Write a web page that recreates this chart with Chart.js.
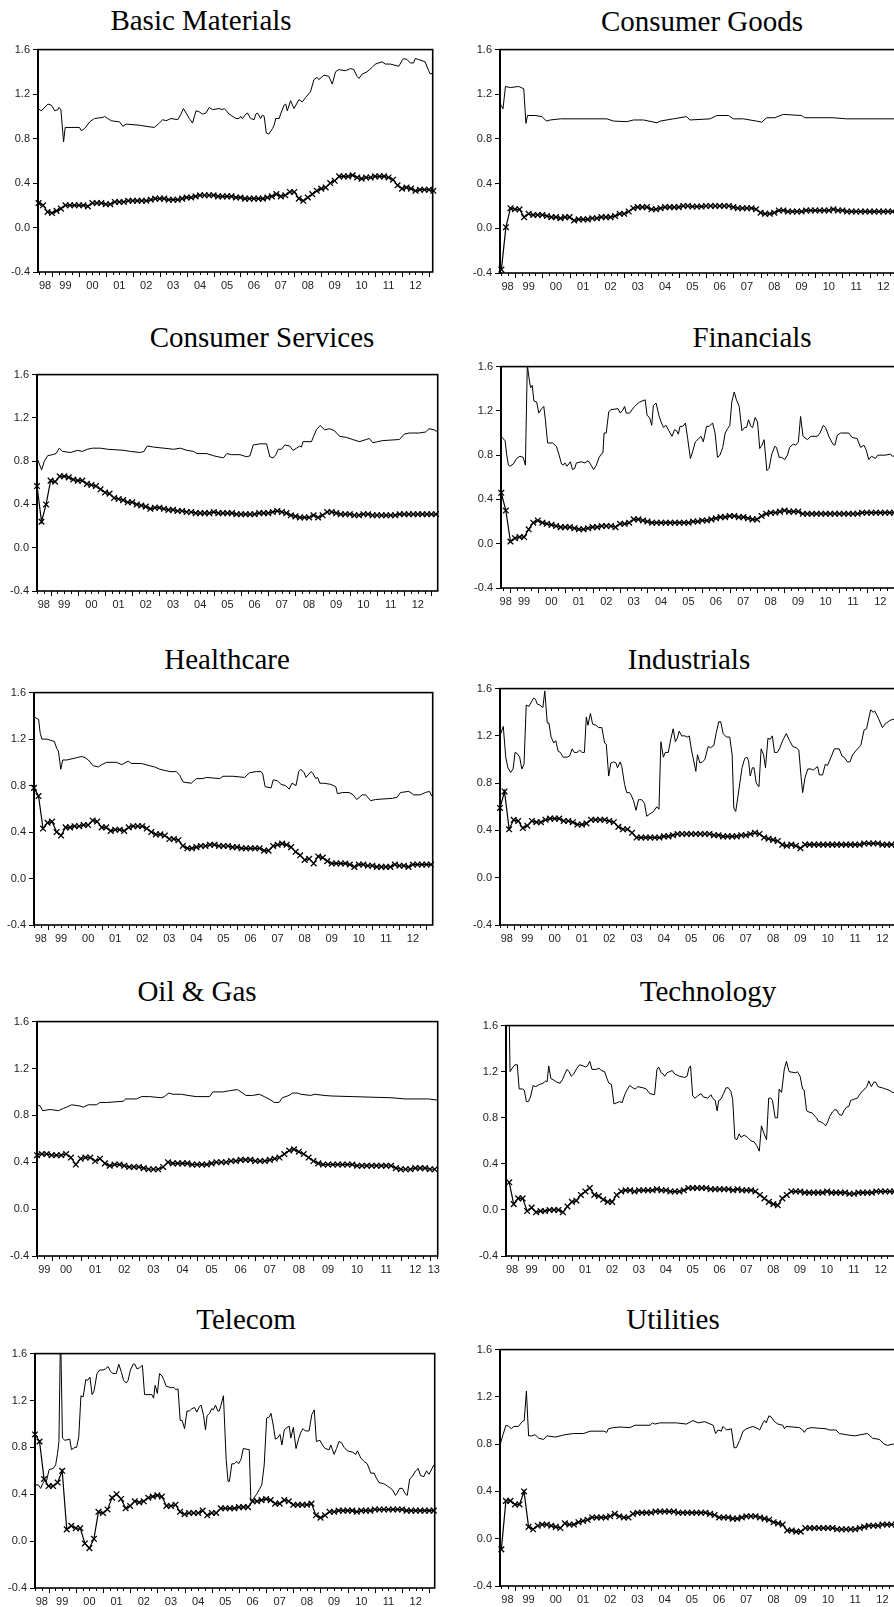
<!DOCTYPE html>
<html lang="en">
<head>
<meta charset="UTF-8">
<title>Sector panels</title>
<script src="https://cdn.jsdelivr.net/npm/chart.js"></script>
<style>
  html, body { margin: 0; padding: 0; background: #fff; overflow: hidden; }
  #page { position: relative; width: 894px; height: 1607px; overflow: hidden; }
  .title {
    position: absolute;
    font-family: 'Times New Roman', 'Liberation Serif', serif;
    font-size: 29px;
    line-height: 29px;
    white-space: nowrap;
    transform: translateX(-50%);
    color: #000;
  }
  canvas { position: absolute; }
</style>
</head>
<body>
<div id="page"></div>
<script>
// line series: [year, value]
const basicLine = [[1998.48,1.07],[1998.60,1.05],[1998.85,1.11],[1998.98,1.10],[1999.10,1.05],[1999.22,1.06],[1999.26,1.08],[1999.33,1.06],[1999.43,0.77],[1999.49,0.90],[2000.02,0.90],[2000.09,0.87],[2000.21,0.89],[2000.40,0.95],[2000.58,0.98],[2000.89,0.99],[2000.95,1.00],[2001.07,0.98],[2001.20,0.96],[2001.51,0.95],[2001.63,0.91],[2001.75,0.93],[2002.25,0.92],[2002.49,0.91],[2002.80,0.90],[2002.99,0.94],[2003.11,0.97],[2003.23,0.96],[2003.42,0.98],[2003.67,0.97],[2003.79,1.02],[2003.88,1.07],[2003.98,1.03],[2004.10,0.98],[2004.22,0.94],[2004.35,1.05],[2004.47,1.04],[2004.59,1.02],[2004.72,1.03],[2004.84,1.08],[2004.96,1.06],[2005.21,1.07],[2005.33,1.06],[2005.40,1.07],[2005.58,1.02],[2005.83,0.98],[2005.95,0.98],[2006.01,1.00],[2006.07,0.98],[2006.20,1.02],[2006.26,1.03],[2006.38,0.98],[2006.51,0.97],[2006.57,1.02],[2006.63,1.03],[2006.75,0.98],[2006.81,1.01],[2006.88,1.00],[2006.96,0.85],[2007.05,0.84],[2007.19,0.89],[2007.25,0.92],[2007.31,0.98],[2007.44,0.98],[2007.49,1.02],[2007.62,1.10],[2007.68,1.11],[2007.74,1.05],[2007.86,1.14],[2007.99,1.07],[2008.17,1.15],[2008.30,1.13],[2008.42,1.17],[2008.60,1.22],[2008.73,1.33],[2008.85,1.35],[2008.91,1.33],[2009.10,1.37],[2009.28,1.36],[2009.41,1.29],[2009.53,1.40],[2009.65,1.42],[2009.90,1.41],[2010.09,1.43],[2010.21,1.42],[2010.33,1.36],[2010.40,1.34],[2010.52,1.38],[2010.70,1.40],[2010.89,1.44],[2011.01,1.47],[2011.26,1.49],[2011.38,1.47],[2011.57,1.47],[2011.88,1.45],[2012.00,1.50],[2012.06,1.52],[2012.19,1.51],[2012.31,1.48],[2012.43,1.48],[2012.49,1.52],[2012.62,1.51],[2012.86,1.49],[2012.99,1.41],[2013.05,1.38],[2013.14,1.39]];
const goodsLine = [[1998.45,1.12],[1998.56,1.07],[1998.65,1.27],[1998.83,1.26],[1999.13,1.27],[1999.32,1.25],[1999.40,0.94],[1999.46,1.01],[1999.74,1.01],[1999.99,1.00],[2000.15,0.96],[2000.29,0.97],[2000.66,0.98],[2002.37,0.98],[2002.61,0.96],[2003.10,0.955],[2003.34,0.97],[2003.71,0.97],[2004.20,0.945],[2004.32,0.96],[2004.80,0.98],[2005.29,1.00],[2005.41,0.97],[2006.15,0.98],[2006.39,1.01],[2006.82,1.01],[2007.00,0.98],[2007.37,0.98],[2007.85,0.96],[2008.04,0.95],[2008.22,0.99],[2008.52,0.99],[2008.83,1.02],[2009.50,1.01],[2009.62,0.99],[2010.66,0.99],[2011.15,0.98],[2013.17,0.98]];
const servicesLine = [[1998.50,0.83],[1998.67,0.72],[1998.77,0.80],[1998.89,0.85],[1999.07,0.86],[1999.20,0.87],[1999.32,0.92],[1999.44,0.89],[1999.74,0.88],[1999.99,0.90],[2000.17,0.89],[2000.35,0.91],[2000.54,0.92],[2000.84,0.92],[2001.09,0.91],[2001.70,0.90],[2001.94,0.89],[2002.30,0.88],[2002.43,0.89],[2002.55,0.94],[2002.79,0.93],[2003.16,0.92],[2003.52,0.91],[2003.77,0.92],[2004.01,0.90],[2004.26,0.89],[2004.38,0.87],[2004.74,0.87],[2004.99,0.85],[2005.35,0.83],[2005.48,0.87],[2005.66,0.86],[2005.96,0.86],[2006.21,0.84],[2006.33,0.85],[2006.45,0.95],[2006.70,0.96],[2006.94,0.96],[2007.06,0.84],[2007.18,0.83],[2007.28,0.86],[2007.37,0.91],[2007.49,0.91],[2007.61,0.95],[2007.79,0.94],[2007.91,0.90],[2008.04,0.92],[2008.16,0.94],[2008.22,0.93],[2008.28,0.98],[2008.59,0.98],[2008.67,1.03],[2008.77,1.09],[2008.91,1.13],[2009.07,1.09],[2009.26,1.10],[2009.44,1.08],[2009.62,1.03],[2009.87,1.02],[2010.11,1.00],[2010.35,0.98],[2010.60,1.00],[2010.72,1.01],[2010.84,0.97],[2011.02,0.98],[2011.21,0.99],[2011.82,1.00],[2012.00,1.05],[2012.18,1.06],[2012.55,1.06],[2012.79,1.07],[2012.91,1.10],[2013.10,1.09],[2013.23,1.07]];
const financeLine = [[1998.66,0.97],[1998.81,0.93],[1998.87,0.80],[1998.93,0.71],[1998.99,0.70],[1999.11,0.72],[1999.23,0.77],[1999.35,0.79],[1999.47,0.78],[1999.55,0.71],[1999.62,1.62],[1999.68,1.50],[1999.74,1.41],[1999.80,1.43],[1999.86,1.29],[1999.96,1.28],[2000.04,1.18],[2000.14,1.22],[2000.22,1.24],[2000.28,1.12],[2000.36,0.91],[2000.54,0.91],[2000.68,0.88],[2000.77,0.81],[2000.87,0.72],[2000.93,0.71],[2000.99,0.73],[2001.07,0.70],[2001.19,0.74],[2001.27,0.67],[2001.35,0.68],[2001.41,0.73],[2001.59,0.74],[2001.72,0.73],[2001.84,0.75],[2001.92,0.72],[2002.04,0.67],[2002.14,0.71],[2002.24,0.78],[2002.32,0.81],[2002.38,0.82],[2002.42,1.00],[2002.50,1.00],[2002.59,1.19],[2002.66,1.21],[2002.93,1.22],[2003.01,1.18],[2003.11,1.21],[2003.17,1.24],[2003.23,1.18],[2003.35,1.18],[2003.53,1.24],[2003.62,1.26],[2003.72,1.28],[2003.92,1.30],[2003.99,1.16],[2004.08,1.14],[2004.16,1.07],[2004.22,1.25],[2004.32,1.27],[2004.42,1.16],[2004.50,1.10],[2004.59,1.05],[2004.68,1.07],[2004.83,1.00],[2004.90,0.97],[2004.99,1.03],[2005.07,1.02],[2005.13,0.99],[2005.19,1.06],[2005.29,1.06],[2005.39,1.09],[2005.47,0.95],[2005.57,0.77],[2005.65,0.83],[2005.75,0.92],[2005.96,0.97],[2006.04,0.92],[2006.16,1.06],[2006.25,1.06],[2006.38,1.09],[2006.47,1.00],[2006.56,0.78],[2006.65,0.80],[2006.75,0.87],[2006.84,1.00],[2006.93,1.04],[2007.01,1.07],[2007.08,1.28],[2007.17,1.37],[2007.25,1.30],[2007.35,1.24],[2007.45,1.02],[2007.55,1.05],[2007.62,1.05],[2007.69,1.12],[2007.78,1.06],[2007.84,1.05],[2007.93,1.14],[2008.02,1.10],[2008.10,0.86],[2008.18,0.89],[2008.26,0.94],[2008.36,0.66],[2008.44,0.68],[2008.54,0.81],[2008.65,0.88],[2008.71,0.87],[2008.81,0.78],[2008.90,0.78],[2009.01,0.76],[2009.11,0.80],[2009.19,0.87],[2009.32,0.90],[2009.41,0.89],[2009.51,0.92],[2009.59,1.15],[2009.68,0.97],[2009.84,0.94],[2009.96,0.97],[2010.20,0.97],[2010.30,1.00],[2010.42,1.07],[2010.50,1.05],[2010.62,0.97],[2010.77,0.90],[2010.84,0.89],[2010.93,0.98],[2011.05,1.00],[2011.35,1.00],[2011.47,0.96],[2011.65,0.95],[2011.78,0.87],[2011.90,0.89],[2011.98,0.85],[2012.08,0.76],[2012.18,0.79],[2012.32,0.77],[2012.41,0.80],[2012.68,0.80],[2012.87,0.81],[2012.94,0.79],[2013.17,0.80]];
const healthLine = [[1998.50,1.39],[1998.67,1.37],[1998.73,1.25],[1998.79,1.20],[1998.98,1.20],[1999.10,1.19],[1999.25,1.18],[1999.34,1.12],[1999.40,1.10],[1999.49,0.94],[1999.56,1.02],[1999.71,1.02],[2000.08,1.04],[2000.26,1.05],[2000.39,1.04],[2000.51,1.02],[2000.69,0.97],[2000.88,0.96],[2001.00,0.98],[2001.18,1.00],[2001.55,1.00],[2001.74,0.98],[2001.98,1.01],[2002.10,0.99],[2002.47,0.99],[2002.78,0.97],[2002.96,0.96],[2003.15,0.94],[2003.52,0.92],[2003.76,0.92],[2003.88,0.89],[2004.01,0.83],[2004.31,0.82],[2004.50,0.86],[2004.74,0.86],[2004.87,0.87],[2005.36,0.86],[2005.48,0.88],[2005.85,0.88],[2006.28,0.87],[2006.46,0.91],[2006.71,0.92],[2006.89,0.92],[2006.95,0.90],[2007.04,0.79],[2007.26,0.78],[2007.34,0.85],[2007.50,0.84],[2007.63,0.81],[2007.79,0.80],[2007.93,0.77],[2008.03,0.82],[2008.18,0.80],[2008.28,0.92],[2008.36,0.94],[2008.48,0.91],[2008.55,0.87],[2008.73,0.92],[2008.79,0.91],[2008.91,0.86],[2008.98,0.87],[2009.06,0.82],[2009.22,0.82],[2009.47,0.81],[2009.65,0.79],[2009.71,0.73],[2009.90,0.74],[2010.14,0.74],[2010.29,0.72],[2010.42,0.68],[2010.63,0.72],[2010.75,0.72],[2010.94,0.67],[2011.12,0.68],[2011.74,0.69],[2011.92,0.70],[2012.04,0.74],[2012.35,0.75],[2012.53,0.72],[2012.77,0.72],[2012.96,0.74],[2013.11,0.75],[2013.20,0.71]];
const industLine = [[1998.53,1.22],[1998.62,1.28],[1998.71,1.02],[1998.79,0.93],[1998.89,0.89],[1998.98,0.92],[1999.05,1.06],[1999.13,1.05],[1999.22,1.02],[1999.30,0.92],[1999.38,0.96],[1999.46,1.46],[1999.56,1.45],[1999.73,1.52],[1999.80,1.51],[1999.86,1.47],[1999.96,1.46],[2000.07,1.44],[2000.14,1.58],[2000.23,1.31],[2000.29,1.31],[2000.37,1.19],[2000.47,1.14],[2000.54,1.16],[2000.63,1.07],[2000.71,1.06],[2000.81,1.02],[2000.96,1.02],[2001.05,1.03],[2001.14,1.09],[2001.22,1.06],[2001.32,1.06],[2001.42,1.08],[2001.50,1.06],[2001.59,1.06],[2001.66,1.36],[2001.72,1.29],[2001.81,1.39],[2001.89,1.30],[2002.01,1.29],[2002.11,1.27],[2002.23,1.27],[2002.33,1.14],[2002.39,1.13],[2002.48,0.86],[2002.56,0.97],[2002.66,0.98],[2002.75,0.97],[2002.80,0.93],[2002.90,0.98],[2002.96,0.94],[2003.06,0.79],[2003.14,0.72],[2003.24,0.72],[2003.30,0.70],[2003.39,0.65],[2003.48,0.57],[2003.57,0.66],[2003.69,0.66],[2003.79,0.63],[2003.87,0.52],[2003.99,0.54],[2004.12,0.56],[2004.24,0.60],[2004.32,0.58],[2004.39,1.15],[2004.48,1.02],[2004.55,1.06],[2004.66,1.06],[2004.76,1.18],[2004.84,1.26],[2004.92,1.15],[2004.99,1.18],[2005.06,1.24],[2005.15,1.20],[2005.27,1.20],[2005.36,1.19],[2005.43,1.20],[2005.51,1.08],[2005.60,0.98],[2005.67,0.90],[2005.73,1.04],[2005.82,0.97],[2005.91,0.98],[2006.00,1.00],[2006.12,1.11],[2006.21,1.10],[2006.33,1.12],[2006.42,1.23],[2006.51,1.32],[2006.58,1.32],[2006.67,1.22],[2006.79,1.19],[2006.91,1.19],[2007.00,1.04],[2007.06,0.59],[2007.13,0.56],[2007.25,0.75],[2007.36,0.93],[2007.46,1.01],[2007.54,1.02],[2007.60,0.99],[2007.66,0.86],[2007.74,0.93],[2007.80,0.93],[2007.88,0.80],[2007.98,0.77],[2008.06,1.09],[2008.15,1.04],[2008.22,0.93],[2008.31,1.18],[2008.39,1.17],[2008.47,1.20],[2008.55,1.06],[2008.65,1.06],[2008.73,1.09],[2008.85,1.16],[2008.98,1.22],[2009.10,1.16],[2009.22,1.11],[2009.34,1.10],[2009.44,1.08],[2009.52,0.86],[2009.58,0.72],[2009.67,0.85],[2009.77,0.92],[2009.89,0.92],[2009.97,0.91],[2010.07,0.93],[2010.13,0.94],[2010.19,0.87],[2010.31,0.87],[2010.41,0.96],[2010.49,0.95],[2010.62,1.02],[2010.74,1.09],[2010.92,1.09],[2011.02,1.03],[2011.10,1.02],[2011.22,0.98],[2011.31,0.98],[2011.41,1.04],[2011.55,1.08],[2011.71,1.12],[2011.83,1.25],[2011.92,1.26],[2012.07,1.42],[2012.16,1.40],[2012.22,1.41],[2012.35,1.35],[2012.50,1.27],[2012.60,1.30],[2012.77,1.33],[2012.88,1.34],[2013.17,1.34]];
const oilLine = [[1999.50,0.89],[1999.61,0.88],[1999.69,0.84],[1999.95,0.85],[2000.24,0.84],[2000.41,0.86],[2000.52,0.87],[2000.69,0.89],[2000.98,0.88],[2001.09,0.87],[2001.26,0.89],[2001.55,0.89],[2001.66,0.91],[2001.89,0.91],[2002.46,0.92],[2002.55,0.94],[2002.92,0.94],[2003.09,0.96],[2003.37,0.96],[2003.77,0.95],[2003.88,0.96],[2004.03,0.99],[2004.17,0.98],[2004.46,0.98],[2004.69,0.97],[2004.97,0.96],[2005.43,0.96],[2005.54,1.00],[2005.88,1.00],[2006.11,1.01],[2006.39,1.02],[2006.51,1.00],[2006.68,0.97],[2006.91,0.97],[2007.14,0.98],[2007.31,0.96],[2007.54,0.93],[2007.65,0.91],[2007.82,0.91],[2007.93,0.95],[2008.16,0.97],[2008.28,0.99],[2008.45,0.99],[2008.56,0.98],[2008.90,0.97],[2009.05,0.98],[2009.36,0.97],[2009.64,0.965],[2010.33,0.96],[2011.01,0.955],[2011.70,0.95],[2012.15,0.94],[2012.95,0.94],[2013.27,0.93]];
const techLine = [[1998.55,2.00],[1998.65,2.00],[1998.70,1.20],[1998.78,1.23],[1998.88,1.26],[1998.97,1.26],[1999.04,1.05],[1999.17,1.05],[1999.23,1.04],[1999.31,0.94],[1999.38,0.94],[1999.46,0.98],[1999.56,1.08],[1999.66,1.07],[1999.81,1.09],[1999.93,1.10],[2000.03,1.12],[2000.08,1.11],[2000.14,1.25],[2000.22,1.14],[2000.31,1.13],[2000.43,1.11],[2000.56,1.10],[2000.65,1.13],[2000.74,1.18],[2000.82,1.22],[2000.90,1.20],[2000.98,1.16],[2001.07,1.18],[2001.19,1.23],[2001.29,1.26],[2001.42,1.25],[2001.52,1.24],[2001.58,1.25],[2001.67,1.29],[2001.75,1.22],[2001.91,1.22],[2002.01,1.23],[2002.10,1.21],[2002.22,1.20],[2002.31,1.14],[2002.38,1.10],[2002.47,1.09],[2002.50,1.05],[2002.57,0.92],[2002.68,0.93],[2002.78,0.94],[2002.87,0.93],[2002.97,1.00],[2003.03,1.03],[2003.15,1.08],[2003.27,1.06],[2003.37,1.05],[2003.46,1.07],[2003.65,1.06],[2003.77,1.05],[2003.90,1.01],[2004.08,1.00],[2004.17,1.22],[2004.23,1.24],[2004.33,1.19],[2004.40,1.18],[2004.46,1.16],[2004.54,1.19],[2004.64,1.20],[2004.74,1.21],[2004.83,1.18],[2005.02,1.16],[2005.20,1.15],[2005.29,1.16],[2005.36,1.23],[2005.42,1.25],[2005.50,0.99],[2005.59,0.97],[2005.69,0.99],[2005.81,1.01],[2005.90,0.98],[2006.06,0.97],[2006.18,1.00],[2006.24,0.97],[2006.34,0.95],[2006.41,0.86],[2006.47,0.95],[2006.55,0.96],[2006.65,1.01],[2006.74,1.06],[2006.83,1.06],[2006.92,1.03],[2006.99,0.96],[2007.07,0.62],[2007.15,0.61],[2007.23,0.66],[2007.30,0.63],[2007.42,0.65],[2007.54,0.63],[2007.67,0.60],[2007.79,0.59],[2007.88,0.56],[2007.98,0.51],[2008.06,0.73],[2008.16,0.66],[2008.25,0.61],[2008.33,0.97],[2008.41,0.97],[2008.47,0.95],[2008.57,0.80],[2008.66,0.80],[2008.72,1.05],[2008.81,1.02],[2008.91,1.22],[2008.99,1.29],[2009.09,1.20],[2009.34,1.19],[2009.40,1.20],[2009.50,1.16],[2009.59,1.05],[2009.65,1.04],[2009.74,0.86],[2009.83,0.85],[2009.96,0.84],[2010.02,0.82],[2010.11,0.80],[2010.18,0.77],[2010.30,0.76],[2010.37,0.75],[2010.45,0.73],[2010.54,0.77],[2010.60,0.81],[2010.70,0.85],[2010.79,0.87],[2010.85,0.87],[2010.95,0.83],[2011.05,0.82],[2011.13,0.86],[2011.22,0.89],[2011.32,0.90],[2011.38,0.95],[2011.50,0.96],[2011.63,0.97],[2011.71,1.00],[2011.81,1.03],[2011.91,1.05],[2011.98,1.07],[2012.06,1.12],[2012.15,1.07],[2012.25,1.11],[2012.31,1.11],[2012.40,1.07],[2012.56,1.06],[2012.68,1.05],[2012.81,1.04],[2012.94,1.02],[2013.17,1.02]];
const telecomLine = [[1998.50,0.48],[1998.62,0.48],[1998.71,0.45],[1998.78,0.49],[1998.87,0.52],[1998.93,0.52],[1999.02,0.61],[1999.17,0.62],[1999.26,0.65],[1999.33,0.75],[1999.38,0.85],[1999.44,1.80],[1999.51,0.88],[1999.60,0.86],[1999.78,0.87],[1999.84,0.78],[1999.97,0.80],[2000.03,0.80],[2000.11,0.89],[2000.19,1.24],[2000.27,1.23],[2000.37,1.38],[2000.43,1.37],[2000.52,1.40],[2000.60,1.25],[2000.67,1.28],[2000.78,1.43],[2000.88,1.46],[2001.00,1.46],[2001.10,1.47],[2001.19,1.49],[2001.27,1.45],[2001.37,1.43],[2001.49,1.43],[2001.58,1.51],[2001.68,1.44],[2001.76,1.37],[2001.86,1.35],[2001.92,1.37],[2002.01,1.46],[2002.11,1.51],[2002.17,1.51],[2002.25,1.47],[2002.35,1.48],[2002.45,1.50],[2002.53,1.25],[2002.80,1.25],[2002.86,1.22],[2002.92,1.33],[2003.00,1.26],[2003.08,1.43],[2003.17,1.41],[2003.23,1.38],[2003.33,1.32],[2003.51,1.31],[2003.61,1.31],[2003.69,1.29],[2003.76,1.30],[2003.84,1.03],[2003.91,1.03],[2004.00,0.96],[2004.09,1.11],[2004.18,1.11],[2004.27,1.13],[2004.37,1.14],[2004.45,1.10],[2004.55,1.15],[2004.61,1.16],[2004.70,1.07],[2004.77,0.95],[2004.83,1.07],[2004.92,1.09],[2005.00,1.13],[2005.06,1.12],[2005.14,1.16],[2005.22,1.11],[2005.28,1.11],[2005.34,1.16],[2005.43,1.24],[2005.53,0.70],[2005.60,0.51],[2005.65,0.51],[2005.74,0.66],[2005.83,0.66],[2005.92,0.68],[2005.99,0.66],[2006.08,0.70],[2006.16,0.79],[2006.38,0.78],[2006.44,0.34],[2006.53,0.36],[2006.65,0.40],[2006.75,0.44],[2006.84,0.48],[2006.93,0.65],[2007.02,1.05],[2007.12,1.06],[2007.18,1.09],[2007.26,0.99],[2007.34,0.87],[2007.42,0.88],[2007.51,0.91],[2007.58,0.82],[2007.67,0.95],[2007.77,0.97],[2007.85,0.98],[2007.91,0.88],[2008.00,0.97],[2008.10,0.79],[2008.19,0.87],[2008.28,0.93],[2008.36,0.96],[2008.44,0.94],[2008.58,0.94],[2008.68,1.08],[2008.77,1.12],[2008.85,0.85],[2008.98,0.86],[2009.07,0.82],[2009.17,0.79],[2009.32,0.78],[2009.38,0.82],[2009.44,0.78],[2009.50,0.74],[2009.59,0.79],[2009.68,0.85],[2009.77,0.84],[2009.87,0.80],[2009.99,0.77],[2010.17,0.76],[2010.30,0.74],[2010.36,0.77],[2010.48,0.71],[2010.60,0.68],[2010.72,0.66],[2010.85,0.58],[2010.97,0.58],[2011.05,0.54],[2011.15,0.50],[2011.33,0.49],[2011.46,0.47],[2011.58,0.45],[2011.64,0.44],[2011.76,0.39],[2011.82,0.41],[2011.91,0.45],[2012.01,0.45],[2012.13,0.40],[2012.19,0.39],[2012.28,0.53],[2012.37,0.55],[2012.50,0.60],[2012.59,0.62],[2012.68,0.56],[2012.80,0.55],[2012.90,0.60],[2012.99,0.57],[2013.17,0.65]];
const utilLine = [[1998.46,0.80],[1998.56,0.88],[1998.67,0.96],[1998.77,0.95],[1998.87,0.93],[1998.95,0.95],[1999.13,0.95],[1999.26,0.99],[1999.34,1.00],[1999.42,1.25],[1999.50,0.87],[1999.62,0.87],[1999.74,0.88],[1999.87,0.85],[2000.05,0.84],[2000.17,0.87],[2000.48,0.86],[2000.66,0.87],[2000.84,0.88],[2001.15,0.89],[2001.52,0.89],[2001.76,0.91],[2002.25,0.91],[2002.37,0.90],[2002.43,0.93],[2002.61,0.94],[2002.86,0.945],[2003.22,0.94],[2003.41,0.96],[2003.96,0.96],[2004.05,0.98],[2004.14,0.97],[2004.32,0.98],[2004.93,0.98],[2005.30,0.97],[2005.54,1.00],[2005.73,0.98],[2005.97,0.99],[2006.28,0.96],[2006.37,0.89],[2006.46,0.92],[2006.58,0.91],[2006.64,0.95],[2006.77,0.92],[2006.95,0.93],[2007.05,0.77],[2007.13,0.77],[2007.25,0.83],[2007.38,0.91],[2007.50,0.93],[2007.74,0.95],[2007.93,0.93],[2007.99,0.92],[2008.11,0.98],[2008.17,1.00],[2008.23,0.98],[2008.33,1.04],[2008.41,1.03],[2008.54,0.99],[2008.66,0.97],[2008.84,0.96],[2008.90,0.93],[2008.96,0.95],[2009.45,0.94],[2009.57,0.92],[2009.63,0.90],[2009.72,0.93],[2009.88,0.94],[2010.43,0.93],[2010.55,0.92],[2010.79,0.92],[2010.92,0.89],[2011.16,0.88],[2011.47,0.87],[2011.71,0.88],[2011.95,0.89],[2012.14,0.85],[2012.38,0.84],[2012.44,0.83],[2012.56,0.80],[2012.69,0.79],[2012.88,0.80],[2013.17,0.80]];

// marker series: one value every two months from the start month
const basicMarks = [0.22,0.20,0.14,0.13,0.15,0.17,0.20,0.20,0.20,0.20,0.20,0.19,0.22,0.22,0.22,0.21,0.21,0.23,0.23,0.23,0.24,0.24,0.24,0.24,0.24,0.25,0.26,0.26,0.26,0.25,0.25,0.25,0.26,0.27,0.27,0.28,0.29,0.29,0.29,0.29,0.28,0.28,0.28,0.28,0.27,0.27,0.26,0.26,0.26,0.26,0.26,0.27,0.28,0.30,0.28,0.29,0.32,0.32,0.26,0.24,0.27,0.30,0.33,0.35,0.36,0.40,0.42,0.46,0.46,0.46,0.47,0.45,0.44,0.45,0.45,0.46,0.46,0.46,0.45,0.43,0.38,0.35,0.36,0.35,0.33,0.34,0.34,0.34,0.33];
const goodsMarks = [-0.37,0.01,0.18,0.17,0.17,0.10,0.13,0.12,0.12,0.12,0.11,0.10,0.10,0.09,0.10,0.10,0.07,0.08,0.08,0.08,0.09,0.09,0.10,0.10,0.10,0.11,0.13,0.13,0.15,0.18,0.19,0.19,0.19,0.17,0.17,0.18,0.19,0.19,0.19,0.19,0.20,0.20,0.195,0.195,0.195,0.20,0.20,0.20,0.20,0.20,0.20,0.19,0.18,0.18,0.18,0.18,0.17,0.14,0.13,0.13,0.14,0.16,0.16,0.15,0.15,0.15,0.15,0.16,0.16,0.16,0.16,0.16,0.16,0.17,0.16,0.16,0.15,0.15,0.15,0.15,0.15,0.15,0.15,0.15,0.15,0.15,0.15,0.15,0.15];
const servicesMarks = [0.57,0.24,0.40,0.62,0.61,0.66,0.66,0.65,0.63,0.62,0.62,0.59,0.58,0.57,0.54,0.51,0.50,0.46,0.45,0.44,0.42,0.42,0.40,0.39,0.38,0.36,0.37,0.37,0.36,0.35,0.35,0.34,0.34,0.33,0.33,0.32,0.32,0.32,0.32,0.33,0.32,0.32,0.32,0.32,0.31,0.31,0.31,0.31,0.31,0.32,0.32,0.32,0.33,0.34,0.33,0.32,0.30,0.29,0.28,0.28,0.28,0.30,0.28,0.30,0.33,0.33,0.32,0.31,0.31,0.31,0.30,0.30,0.31,0.31,0.30,0.30,0.30,0.30,0.30,0.30,0.31,0.31,0.31,0.31,0.31,0.31,0.31,0.31,0.31];
const financeMarks = [0.46,0.30,0.02,0.05,0.06,0.06,0.13,0.19,0.21,0.19,0.18,0.17,0.16,0.15,0.15,0.15,0.14,0.13,0.13,0.14,0.15,0.15,0.16,0.16,0.16,0.15,0.18,0.18,0.19,0.22,0.22,0.21,0.20,0.19,0.19,0.19,0.19,0.19,0.19,0.19,0.19,0.19,0.20,0.20,0.21,0.21,0.22,0.23,0.24,0.24,0.25,0.25,0.24,0.24,0.23,0.22,0.22,0.25,0.27,0.28,0.28,0.29,0.30,0.29,0.29,0.29,0.27,0.27,0.27,0.27,0.27,0.27,0.27,0.27,0.27,0.27,0.27,0.27,0.27,0.28,0.28,0.28,0.28,0.28,0.28,0.28,0.28,0.28];
const healthMarks = [0.78,0.71,0.43,0.48,0.49,0.40,0.37,0.44,0.44,0.45,0.45,0.46,0.46,0.50,0.49,0.44,0.44,0.41,0.42,0.42,0.41,0.44,0.45,0.45,0.45,0.43,0.40,0.38,0.38,0.37,0.34,0.34,0.33,0.28,0.26,0.26,0.27,0.28,0.28,0.29,0.29,0.28,0.28,0.28,0.27,0.27,0.26,0.26,0.26,0.26,0.26,0.24,0.24,0.28,0.29,0.30,0.29,0.27,0.23,0.20,0.16,0.17,0.13,0.19,0.18,0.15,0.13,0.13,0.13,0.13,0.12,0.10,0.12,0.12,0.11,0.11,0.10,0.10,0.10,0.10,0.12,0.11,0.11,0.10,0.12,0.12,0.12,0.12,0.12];
const industMarks = [0.59,0.73,0.41,0.49,0.48,0.42,0.44,0.48,0.47,0.47,0.49,0.50,0.50,0.50,0.48,0.48,0.47,0.45,0.45,0.46,0.49,0.49,0.49,0.49,0.48,0.47,0.43,0.41,0.41,0.38,0.34,0.34,0.34,0.34,0.34,0.34,0.35,0.35,0.36,0.37,0.37,0.37,0.37,0.37,0.37,0.37,0.37,0.36,0.36,0.35,0.35,0.35,0.35,0.36,0.36,0.37,0.38,0.37,0.34,0.33,0.32,0.31,0.28,0.27,0.28,0.27,0.25,0.28,0.28,0.28,0.28,0.28,0.28,0.28,0.28,0.28,0.28,0.28,0.28,0.28,0.29,0.29,0.29,0.29,0.28,0.28,0.28,0.28,0.28];
const oilMarks = [0.46,0.47,0.47,0.46,0.46,0.46,0.47,0.44,0.38,0.43,0.44,0.44,0.41,0.43,0.39,0.37,0.38,0.38,0.37,0.36,0.36,0.36,0.35,0.34,0.34,0.34,0.36,0.40,0.39,0.39,0.39,0.39,0.38,0.38,0.38,0.38,0.39,0.40,0.40,0.40,0.41,0.41,0.42,0.42,0.42,0.41,0.41,0.41,0.42,0.43,0.44,0.47,0.50,0.51,0.49,0.47,0.44,0.41,0.39,0.38,0.38,0.38,0.38,0.38,0.38,0.38,0.37,0.37,0.37,0.37,0.37,0.37,0.37,0.37,0.35,0.34,0.34,0.34,0.35,0.35,0.35,0.34,0.34];
const techMarks = [0.24,0.05,0.10,0.10,-0.01,0.02,-0.02,-0.01,-0.01,0.00,0.00,0.00,-0.02,0.03,0.07,0.08,0.13,0.16,0.19,0.13,0.12,0.09,0.07,0.07,0.13,0.16,0.17,0.17,0.16,0.17,0.17,0.17,0.17,0.18,0.17,0.17,0.16,0.16,0.16,0.17,0.19,0.19,0.19,0.19,0.19,0.18,0.18,0.18,0.18,0.18,0.17,0.18,0.17,0.17,0.17,0.16,0.13,0.10,0.07,0.05,0.04,0.10,0.13,0.16,0.16,0.16,0.15,0.15,0.15,0.15,0.15,0.16,0.15,0.15,0.15,0.15,0.14,0.14,0.15,0.15,0.15,0.15,0.16,0.16,0.16,0.16,0.16,0.16];
const telecomMarks = [0.91,0.85,0.53,0.47,0.47,0.50,0.60,0.10,0.13,0.11,0.11,-0.02,-0.06,0.02,0.25,0.24,0.27,0.37,0.40,0.36,0.28,0.30,0.34,0.33,0.34,0.37,0.38,0.39,0.38,0.30,0.30,0.31,0.25,0.23,0.24,0.24,0.24,0.26,0.22,0.24,0.24,0.28,0.28,0.28,0.28,0.29,0.29,0.29,0.34,0.34,0.35,0.36,0.35,0.32,0.32,0.35,0.34,0.31,0.31,0.31,0.31,0.32,0.22,0.20,0.22,0.25,0.25,0.26,0.26,0.26,0.26,0.25,0.26,0.26,0.26,0.27,0.27,0.27,0.27,0.27,0.27,0.27,0.26,0.26,0.26,0.26,0.26,0.26,0.26];
const utilMarks = [-0.09,0.32,0.32,0.29,0.29,0.40,0.10,0.08,0.11,0.12,0.12,0.11,0.10,0.09,0.13,0.12,0.12,0.14,0.15,0.16,0.18,0.18,0.18,0.18,0.19,0.21,0.19,0.18,0.18,0.21,0.22,0.22,0.22,0.22,0.23,0.23,0.23,0.23,0.23,0.22,0.22,0.22,0.22,0.22,0.22,0.22,0.21,0.20,0.18,0.18,0.18,0.17,0.17,0.18,0.19,0.19,0.19,0.18,0.17,0.16,0.14,0.13,0.12,0.07,0.07,0.06,0.06,0.09,0.09,0.09,0.09,0.09,0.09,0.09,0.08,0.08,0.08,0.08,0.08,0.09,0.10,0.11,0.11,0.11,0.12,0.12,0.12,0.12,0.12];

const yTicks = [-0.4, 0.0, 0.4, 0.8, 1.2, 1.6];

// page layout (plot box in page pixels)
const panels = [
  { title: 'Basic Materials',    line: basicLine,    marks: basicMarks,    start: 1998.5,  xmin: 1998.48, xmax: 2013.14, left: 38,  top: 44,   w: 396, h: 228, tx: 201, ty: 30 },
  { title: 'Consumer Goods',     line: goodsLine,    marks: goodsMarks,    start: 1998.5,  xmin: 1998.45, xmax: 2013.17, left: 500, top: 44,   w: 403, h: 229, tx: 702, ty: 31 },
  { title: 'Consumer Services',  line: servicesLine, marks: servicesMarks, start: 1998.5,  xmin: 1998.50, xmax: 2013.23, left: 37,  top: 369,  w: 402, h: 222, tx: 262, ty: 347 },
  { title: 'Financials',         line: financeLine,  marks: financeMarks,  start: 1998.67, xmin: 1998.66, xmax: 2013.17, left: 501, top: 361,  w: 399, h: 227, tx: 752, ty: 347 },
  { title: 'Healthcare',         line: healthLine,   marks: healthMarks,   start: 1998.5,  xmin: 1998.50, xmax: 2013.23, left: 34,  top: 687,  w: 400, h: 238, tx: 227, ty: 669 },
  { title: 'Industrials',        line: industLine,   marks: industMarks,   start: 1998.5,  xmin: 1998.50, xmax: 2013.17, left: 500, top: 683,  w: 402, h: 242, tx: 689, ty: 669 },
  { title: 'Oil & Gas',          line: oilLine,      marks: oilMarks,      start: 1999.5,  xmin: 1999.50, xmax: 2013.27, left: 37,  top: 1016, w: 402, h: 240, tx: 197, ty: 1001 },
  { title: 'Technology',         line: techLine,     marks: techMarks,     start: 1998.67, xmin: 1998.55, xmax: 2013.17, left: 506, top: 1020, w: 394, h: 236, tx: 708, ty: 1001 },
  { title: 'Telecom',            line: telecomLine,  marks: telecomMarks,  start: 1998.5,  xmin: 1998.50, xmax: 2013.20, left: 35,  top: 1348, w: 401, h: 240, tx: 246, ty: 1329 },
  { title: 'Utilities',          line: utilLine,     marks: utilMarks,     start: 1998.5,  xmin: 1998.45, xmax: 2013.17, left: 500, top: 1344, w: 402, h: 242, tx: 673, ty: 1329 }
];

Chart.defaults.font.family = 'Arial, "Liberation Sans", sans-serif';
Chart.defaults.font.size = 11;
Chart.defaults.color = '#222';

const AX = 36, PT = 4, PR = 4, XH = 24;

// year labels sit in the middle of the visible part of each year
function yearLabelPositions(min, max) {
  const out = [];
  for (let y = Math.floor(min); y <= Math.floor(max); y++) {
    const lo = Math.max(y, min), hi = Math.min(y + 1, max);
    if (hi - lo >= 0.25) out.push((lo + hi) / 2);
  }
  return out;
}

const boxAndTicks = {
  id: 'boxAndTicks',
  afterDraw(chart) {
    const { ctx, chartArea: a } = chart;
    const x = chart.scales.x;
    ctx.save();
    ctx.strokeStyle = '#000';
    ctx.lineWidth = 1;
    ctx.beginPath();
    for (let q = Math.ceil(x.min * 4) / 4; q <= x.max + 1e-9; q += 0.25) {
      const px = Math.round(x.getPixelForValue(q)) + 0.5;
      const len = Math.abs(q - Math.round(q)) < 1e-9 ? 5 : 3;
      ctx.moveTo(px, a.bottom);
      ctx.lineTo(px, a.bottom + len);
    }
    ctx.stroke();
    ctx.lineWidth = 1.6;
    ctx.strokeRect(a.left, a.top, a.right - a.left, a.bottom - a.top);
    ctx.lineWidth = 2;
    ctx.beginPath();
    ctx.moveTo(a.left, a.top);
    ctx.lineTo(a.left, a.bottom + 1);
    ctx.stroke();
    ctx.restore();
  }
};

const page = document.getElementById('page');

panels.forEach(p => {
  const t = document.createElement('div');
  t.className = 'title';
  t.textContent = p.title;
  t.style.left = p.tx + 'px';
  t.style.top = (p.ty - 24.3) + 'px';
  page.appendChild(t);

  const c = document.createElement('canvas');
  const cw = AX + p.w + PR, ch = PT + p.h + XH;
  c.width = cw; c.height = ch;
  c.style.width = cw + 'px'; c.style.height = ch + 'px';
  c.style.left = (p.left - AX) + 'px';
  c.style.top = (p.top - PT) + 'px';
  page.appendChild(c);

  const labelPos = yearLabelPositions(p.xmin, p.xmax);

  new Chart(c, {
    type: 'line',
    data: {
      datasets: [
        {
          data: p.line.map(([x, y]) => ({ x, y })),
          borderColor: '#000',
          borderWidth: 1,
          pointRadius: 0,
          tension: 0,
          clip: { left: 0, top: 0, right: 0, bottom: 0 }
        },
        {
          data: p.marks.map((y, i) => ({ x: p.start + i / 6, y })),
          borderColor: '#000',
          borderWidth: 1.2,
          pointStyle: 'crossRot',
          pointRadius: 4,
          pointBorderWidth: 1.3,
          pointBorderColor: '#000',
          tension: 0,
          clip: { left: 4, top: 0, right: 4, bottom: 0 }
        }
      ]
    },
    options: {
      responsive: false,
      animation: false,
      events: [],
      layout: { padding: { top: PT, right: PR, left: 0, bottom: 0 } },
      plugins: { legend: { display: false }, tooltip: { enabled: false } },
      scales: {
        x: {
          type: 'linear',
          min: p.xmin,
          max: p.xmax,
          afterBuildTicks: s => { s.ticks = labelPos.map(v => ({ value: v })); },
          afterFit: s => { s.height = XH; },
          grid: { display: true, drawOnChartArea: false, drawTicks: true, tickLength: 4, tickColor: 'rgba(0,0,0,0)' },
          border: { display: false },
          ticks: {
            autoSkip: false,
            maxRotation: 0,
            padding: 3,
            color: '#222',
            callback: v => String(Math.floor(v) % 100).padStart(2, '0')
          }
        },
        y: {
          min: -0.4,
          max: 1.6,
          afterBuildTicks: s => { s.ticks = yTicks.map(v => ({ value: v })); },
          afterFit: s => { s.width = AX; },
          grid: { display: true, drawOnChartArea: false, drawTicks: true, tickLength: 5, color: '#000', lineWidth: 1 },
          border: { display: false },
          ticks: {
            padding: 3,
            color: '#222',
            callback: v => (Math.abs(v) < 1e-9 ? 0 : v).toFixed(1)
          }
        }
      }
    },
    plugins: [boxAndTicks]
  });
});
</script>
</body>
</html>
